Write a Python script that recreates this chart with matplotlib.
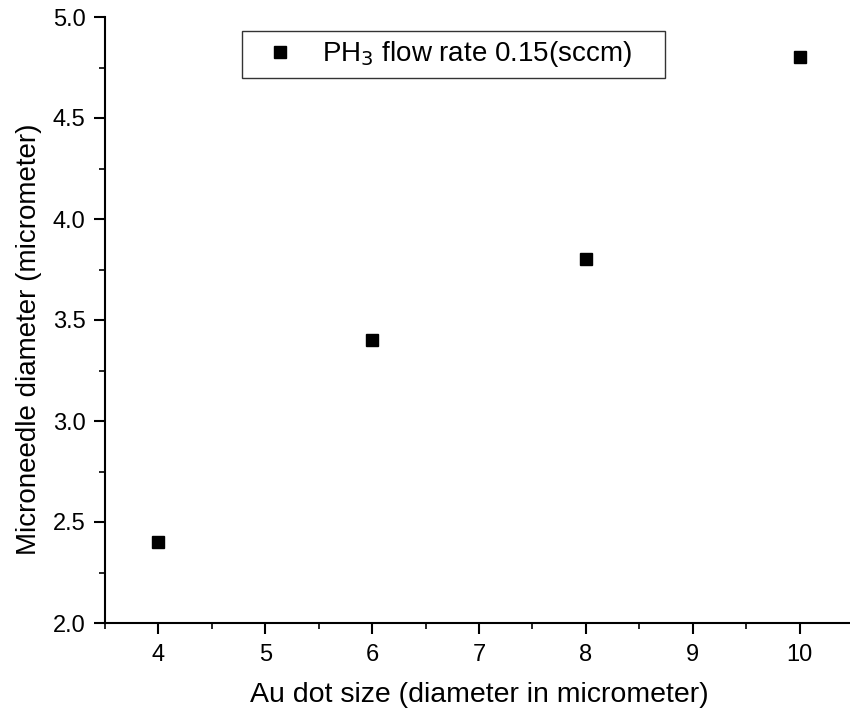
import matplotlib
matplotlib.use('Agg')
from matplotlib import pyplot as plt
from matplotlib.ticker import MultipleLocator

dot_size = [4, 6, 8, 10]
needle_diam = [2.4, 3.4, 3.8, 4.8]

plt.rcParams['font.family'] = ['Liberation Sans', 'DejaVu Sans']

fig = plt.figure(figsize=(8.5, 7.14), dpi=100)
ax = fig.add_axes([105/850, 91/714, 748/850, 606/714])

# trailing spaces widen the legend box like the original
ax.plot(dot_size, needle_diam, 's', color='black', markersize=8.5,
        label=r'PH$_3$ flow rate 0.15(sccm)' + '    ')

ax.set_xlim(3.5, 10.5)
ax.set_ylim(2.0, 5.0)
ax.xaxis.set_major_locator(MultipleLocator(1))
ax.xaxis.set_minor_locator(MultipleLocator(0.5))
ax.yaxis.set_major_locator(MultipleLocator(0.5))
ax.yaxis.set_minor_locator(MultipleLocator(0.25))
ax.yaxis.set_major_formatter(matplotlib.ticker.FormatStrFormatter('%.1f'))

ax.spines['top'].set_visible(False)
ax.spines['right'].set_visible(False)
for s in ('left', 'bottom'):
    ax.spines[s].set_linewidth(1.5)

ax.tick_params(which='major', direction='out', length=8, width=1.5, labelsize=17)
ax.tick_params(axis='x', which='major', pad=7)
ax.tick_params(axis='y', which='major', pad=6)
ax.tick_params(which='minor', direction='out', length=4, width=1.2)

ax.set_xlabel('Au dot size (diameter in micrometer)', fontsize=20.5, labelpad=12)
ax.set_ylabel('Microneedle diameter (micrometer)', fontsize=20)
ax.yaxis.set_label_coords(-0.084, 0.469)

leg = ax.legend(loc='upper left', bbox_to_anchor=(137/748, 1 - 14/606),
                fontsize=20, frameon=True, fancybox=False, handletextpad=0.44,
                borderpad=0.3, handlelength=2.14, borderaxespad=0)
leg.get_frame().set_edgecolor('black')
leg.get_frame().set_linewidth(1.0)

fig.savefig('out.png', dpi=100)
